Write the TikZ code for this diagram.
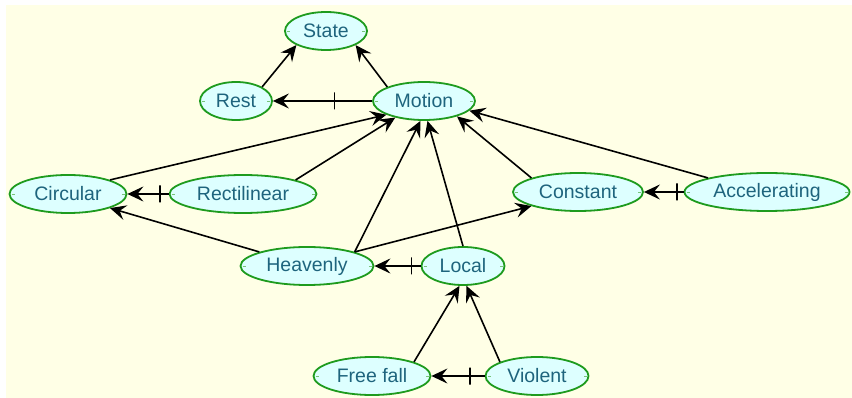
\documentclass[tikz,border=0pt]{standalone}
\usepackage{fontspec}
\setmainfont{Liberation Sans}
\usetikzlibrary{shapes.geometric, arrows.meta}
\definecolor{paper}{RGB}{255,255,230}
\definecolor{bubble}{RGB}{221,255,255}
\definecolor{rim}{RGB}{30,155,30}
\definecolor{ink}{RGB}{30,100,125}

\begin{document}
\begin{tikzpicture}[x=1pt, y=-1pt,
concept/.style={ellipse, draw=rim, line width=1.8pt, fill=bubble, text=ink, inner sep=0pt, minimum height=38pt,
 font=\fontsize{19.5}{22}\selectfont,
 path picture={\draw[rim!60, line width=0.8pt] ([xshift=2pt]path picture bounding box.west) -- ++(3pt,0pt)
  ([xshift=-2pt]path picture bounding box.east) -- ++(-3pt,0pt);}},
isa/.style={-{Stealth[length=16pt, width=15pt, inset=6pt]}, line width=1.6pt}]
\tikzstyle{barmark}=[draw, line width=1.6pt, inner sep=0pt, minimum width=0pt, minimum height=17pt]
\fill[white] (0,0) rectangle (852,398);
\fill[paper] (6,5) rectangle (852,398);
\useasboundingbox (0,0) rectangle (852,398);
%concepts
\node[concept, minimum width=82pt]  (state)        at (326,31)  {State};
\node[concept, minimum width=72pt]  (rest)         at (236,101) {Rest};
\node[concept, minimum width=102pt] (motion)       at (424,101) {Motion};
\node[concept, minimum width=117pt] (circular)     at (68,194)  {Circular};
\node[concept, minimum width=147pt] (rectilinear)  at (243,194) {Rectilinear};
\node[concept, minimum width=130pt] (constant)     at (578,192) {Constant};
\node[concept, minimum width=165pt] (accelerating) at (767,192) {Accelerating};
\node[concept, minimum width=133pt] (heavenly)     at (307,266) {Heavenly};
\node[concept, minimum width=83pt]  (local)        at (463,266) {Local};
\node[concept, minimum width=117pt] (freefall)     at (372,376) {Free fall};
\node[concept, minimum width=103pt] (violent)      at (537,376) {Violent};
%links
\draw[isa] (rest.north east) -- (state.south west);
\draw[isa] (motion.north west) -- (state.south east);
\draw[isa] (motion.west) -- node[barmark, pos=0.38] {} (rest.east);
\draw[isa] (circular.north east) -- (motion.-160);
\draw[isa] (rectilinear.north east) -- (motion.-150);
\draw[isa] (heavenly.north east) -- (motion.-100);
\draw[isa] (local.north) -- (motion.-80);
\draw[isa] (constant.north west) -- (motion.-25);
\draw[isa] (accelerating.north west) -- (motion.-12);
\draw[isa] (rectilinear.west) -- node[barmark, pos=0.21] {} (circular.east);
\draw[isa] (accelerating.west) -- node[barmark, pos=0.17] {} (constant.east);
\draw[isa] (heavenly.north west) -- (circular.south east);
\draw[isa] (heavenly.north east) -- (constant.south west);
\draw[isa] (local.west) -- node[barmark, pos=0.2] {} (heavenly.east);
\draw[isa] (freefall.north east) -- (local.-100);
\draw[isa] (violent.north west) -- (local.-80);
\draw[isa] (violent.west) -- node[barmark, pos=0.27] {} (freefall.east);
\end{tikzpicture}
\end{document}
